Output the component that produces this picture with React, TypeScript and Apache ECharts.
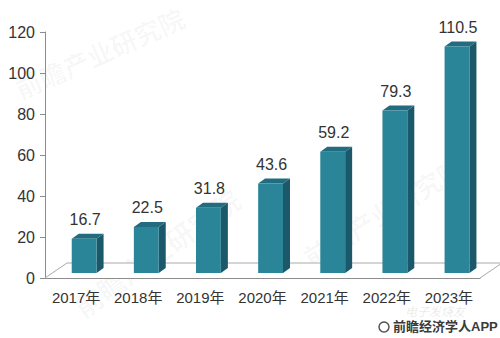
import React, { useEffect, useRef } from "react";
import * as echarts from "echarts";

const categories = ["2017年", "2018年", "2019年", "2020年", "2021年", "2022年", "2023年"];
const values = [16.7, 22.5, 31.8, 43.6, 59.2, 79.3, 110.5];
const yTicks = { min: 0, max: 120, interval: 20 };

const FONT = 'Arial, "Liberation Sans", "Noto Sans CJK SC", sans-serif';
const FRONT = "#2a8599";
const SIDE = "#1b5869";
const TOP = "#216c7e";
const WM = "rgba(0,0,0,0.035)";

export default function App() {
  const ref = useRef<HTMLDivElement>(null);
  useEffect(() => {
    document.body.style.margin = "0";
    const chart = echarts.init(ref.current!, undefined, { renderer: "svg" });
    const option: any = {
      animation: false,
      backgroundColor: "#ffffff",
      grid: { left: 45, right: 20, top: 32, bottom: 60 },
      xAxis: {
        type: "category",
        data: categories,
        axisLine: { lineStyle: { color: "#8c8c8c", width: 1 } },
        axisTick: { length: 5, lineStyle: { color: "#8c8c8c" } },
        axisLabel: { interval: 0, fontSize: 15, color: "#333", margin: 12, fontFamily: FONT },
      },
      yAxis: {
        type: "value",
        min: yTicks.min,
        max: yTicks.max,
        interval: yTicks.interval,
        axisLine: { show: true, lineStyle: { color: "#8c8c8c", width: 1 } },
        axisTick: { show: true, length: 5, lineStyle: { color: "#8c8c8c" } },
        axisLabel: { fontSize: 16, color: "#333", margin: 10, fontFamily: FONT },
        splitLine: { show: false },
      },
      graphic: [
        {
          type: "text", x: 12, y: 80, rotation: 0.42, silent: true,
          style: { text: "前瞻产业研究院", font: `bold 26px ${FONT}`, fill: WM },
        },
        {
          type: "text", x: 70, y: 300, rotation: 0.62, silent: true,
          style: { text: "前瞻产业研究院", font: `bold 28px ${FONT}`, fill: WM },
        },
        {
          type: "text", x: 300, y: 250, rotation: 0.55, silent: true,
          style: { text: "前瞻产业研究院", font: `bold 26px ${FONT}`, fill: WM },
        },
        {
          type: "text", x: 405, y: 306, silent: true,
          style: { text: "电子发烧友", font: `italic 12px ${FONT}`, fill: "rgba(0,0,0,0.1)" },
        },
        {
          type: "circle", shape: { cx: 384, cy: 327, r: 5 },
          style: { fill: "none", stroke: "#555", lineWidth: 1.5 },
        },
        {
          type: "text", x: 393, y: 320,
          style: { text: "前瞻经济学人APP", font: `bold 13px ${FONT}`, fill: "#3a3a3a" },
        },
      ],
      series: [
        {
          type: "custom",
          z: 1,
          data: [[0, 0]],
          renderItem: (params: any) => {
            const cs = params.coordSys;
            const fx0 = cs.x, fx1 = cs.x + cs.width, fy = cs.y + cs.height;
            const dx = 22, dy = 15;
            return {
              type: "group",
              children: [
                {
                  type: "polygon",
                  shape: { points: [[fx0, fy], [fx0 + dx, fy - dy], [fx1 + dx, fy - dy], [fx1, fy]] },
                  style: { fill: "#ffffff", stroke: "none" },
                },
                {
                  type: "polyline",
                  shape: { points: [[fx0, fy], [fx0 + dx, fy - dy], [fx1 + dx, fy - dy], [fx1, fy]] },
                  style: { fill: "none", stroke: "#aaaaaa", lineWidth: 1 },
                },
              ],
            };
          },
        },
        {
          type: "custom",
          z: 3,
          data: values.map((v, i) => [i, v]),
          encode: { x: 0, y: 1 },
          renderItem: (params: any, api: any) => {
            const i = api.value(0);
            const v = api.value(1);
            const top = api.coord([i, v]);
            const base = api.coord([i, 0]);
            const band = api.size([1, 0])[0];
            const w = band * 0.4;
            const x0 = top[0] - band * 0.07;
            const lift = 5, dx = 7, dy = 5;
            const yT = top[1] - lift;
            const yB = base[1] - lift;
            return {
              type: "group",
              children: [
                {
                  type: "polygon",
                  shape: { points: [[x0 + w, yT], [x0 + w + dx, yT - dy], [x0 + w + dx, yB - dy], [x0 + w, yB]] },
                  style: { fill: SIDE },
                },
                {
                  type: "polygon",
                  shape: { points: [[x0, yT], [x0 + dx, yT - dy], [x0 + w + dx, yT - dy], [x0 + w, yT]] },
                  style: { fill: TOP },
                },
                {
                  type: "rect",
                  shape: { x: x0, y: yT, width: w, height: yB - yT },
                  style: { fill: FRONT },
                },
                {
                  type: "text",
                  style: {
                    text: String(v),
                    x: x0 + w / 2 + 1,
                    y: yT - 19,
                    align: "center",
                    verticalAlign: "middle",
                    font: `16px ${FONT}`,
                    fill: "#333",
                  },
                },
              ],
            };
          },
        },
      ],
    };
    chart.setOption(option);
    return () => chart.dispose();
  }, []);
  return <div ref={ref} style={{ width: 500, height: 338 }} />;
}
